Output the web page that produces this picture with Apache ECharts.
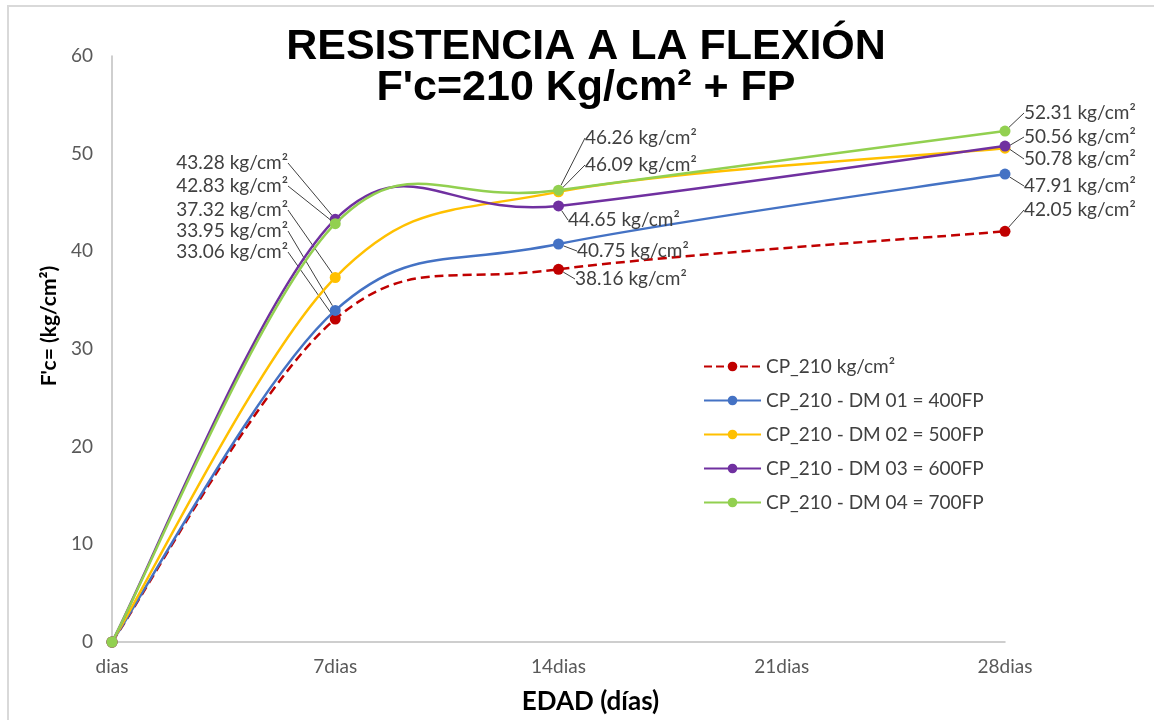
<!DOCTYPE html>
<html>
<head>
<meta charset="utf-8">
<script src="https://cdn.jsdelivr.net/npm/echarts@6/dist/echarts.min.js"></script>
<style>
html,body{margin:0;padding:0;background:#fff;}
#chart{width:1154px;height:720px;}
</style>
</head>
<body>
<div id="chart"></div>
<script>
// ---- data ----
const ages = [0, 7, 14, 28];
const xTicks = [0, 7, 14, 21, 28];
const xTickLabels = ['dias', '7dias', '14dias', '21dias', '28dias'];
const seriesNames = ['CP_210 kg/cm²', 'CP_210 - DM 01 = 400FP', 'CP_210 - DM 02 = 500FP', 'CP_210 - DM 03 = 600FP', 'CP_210 - DM 04 = 700FP'];
const cp210 = [0, 33.06, 38.16, 42.05];
const dm01 = [0, 33.95, 40.75, 47.91];
const dm02 = [0, 37.32, 46.09, 50.56];
const dm03 = [0, 43.28, 44.65, 50.78];
const dm04 = [0, 42.83, 46.26, 52.31];
const unit = ' kg/cm²';

// ---- styles / layout ----
const colors = ['#C00000', '#4472C4', '#FFC000', '#7030A0', '#92D050'];
const lineTypes = ['dashed', 'solid', 'solid', 'solid', 'solid'];
const lineDashes = [[9, 5], null, null, null, null];
// label anchor positions [x, y, align] per series per data index
const labelPos = [
  [null, [288, 252, 'right'], [575, 279, 'left'], [1024, 210, 'left']],
  [null, [288, 231, 'right'], [577, 251, 'left'], [1024, 186, 'left']],
  [null, [288, 210, 'right'], [585, 165, 'left'], [1024, 137, 'left']],
  [null, [288, 163, 'right'], [568, 220, 'left'], [1024, 159, 'left']],
  [null, [288, 186, 'right'], [585, 138, 'left'], [1024, 113, 'left']]
];
const FONT = 'Lato, "Open Sans", sans-serif';
const LW = 2.5;

const allValues = [cp210, dm01, dm02, dm03, dm04];

// Excel-style smoothed curve (Bezier, tension 1/6) drawn from data via the axes
function curveSeries(vals, si) {
  return {
    name: seriesNames[si] + ' (curva)',
    type: 'custom',
    coordinateSystem: 'cartesian2d',
    silent: true,
    z: 2 + si * 2,
    encode: { x: 0, y: 1 },
    data: vals.map((v, i) => [ages[i], v]),
    renderItem: function (params, api) {
      if (params.dataIndex !== 0) return null;
      const pts = vals.map((v, i) => api.coord([ages[i], v]));
      const n = pts.length;
      let d = 'M' + pts[0][0] + ' ' + pts[0][1];
      for (let i = 0; i < n - 1; i++) {
        const p0 = pts[Math.max(i - 1, 0)], p1 = pts[i], p2 = pts[i + 1], p3 = pts[Math.min(i + 2, n - 1)];
        const c1x = p1[0] + (p2[0] - p0[0]) / 6, c1y = p1[1] + (p2[1] - p0[1]) / 6;
        const c2x = p2[0] - (p3[0] - p1[0]) / 6, c2y = p2[1] - (p3[1] - p1[1]) / 6;
        d += ' C' + c1x + ' ' + c1y + ' ' + c2x + ' ' + c2y + ' ' + p2[0] + ' ' + p2[1];
      }
      return {
        type: 'path',
        shape: { pathData: d },
        style: { fill: null, stroke: colors[si], lineWidth: LW, lineDash: lineDashes[si], lineCap: 'butt' }
      };
    }
  };
}

function pointSeries(vals, si) {
  return {
    name: seriesNames[si],
    type: 'line',
    symbol: 'circle',
    symbolSize: 11,
    color: colors[si],
    lineStyle: { width: LW, type: lineTypes[si], color: colors[si], opacity: 0 },
    itemStyle: { color: colors[si] },
    z: 3 + si * 2,
    label: {
      show: true,
      formatter: p => p.value[1].toFixed(2) + unit,
      fontFamily: FONT,
      fontSize: 19,
      color: '#404040'
    },
    labelLine: { show: true, lineStyle: { color: '#404040', width: 1 } },
    labelLayout: function (params) {
      const p = labelPos[si][params.dataIndex];
      if (!p) return {};
      return { x: p[0], y: p[1], align: p[2], verticalAlign: 'middle' };
    },
    data: vals.map((v, i) => i === 0
      ? { value: [ages[i], v], label: { show: false }, labelLine: { show: false } }
      : { value: [ages[i], v] })
  };
}

const series = [];
allValues.forEach((vals, si) => { series.push(curveSeries(vals, si)); series.push(pointSeries(vals, si)); });

const chart = echarts.init(document.getElementById('chart'));
chart.setOption({
  animation: false,
  backgroundColor: '#ffffff',
  graphic: [{
    type: 'rect',
    shape: { x: 8, y: 6, width: 1300, height: 900 },
    style: { fill: 'none', stroke: '#D9D9D9', lineWidth: 2 },
    silent: true
  }],
  title: {
    text: 'RESISTENCIA A LA FLEXIÓN\nF\'c=210 Kg/cm² + FP',
    left: 581,
    top: 22,
    textAlign: 'center',
    textStyle: {
      fontFamily: '"Liberation Sans", Arial, sans-serif',
      fontWeight: 'bold',
      fontSize: 43,
      lineHeight: 41,
      color: '#000000'
    }
  },
  legend: {
    orient: 'vertical',
    left: 698,
    top: 352,
    itemWidth: 57,
    itemHeight: 12,
    itemGap: 15,
    lineStyle: { opacity: 1 },
    textStyle: { fontFamily: FONT, fontSize: 19, color: '#404040' },
    data: seriesNames
  },
  grid: { left: 112, right: 149, top: 56, bottom: 78, containLabel: false },
  xAxis: {
    type: 'value',
    min: 0,
    max: 28,
    interval: 7,
    name: 'EDAD (días)',
    nameLocation: 'middle',
    nameGap: 47,
    nameTextStyle: { fontFamily: FONT, fontWeight: 'bold', fontSize: 26, color: '#000', padding: [0, 0, 0, 64] },
    axisLine: { show: true, lineStyle: { color: '#BFBFBF', width: 1.5 } },
    axisTick: { show: false },
    splitLine: { show: false },
    axisLabel: {
      margin: 15,
      fontFamily: FONT,
      fontSize: 19,
      color: '#595959',
      formatter: v => { const k = xTicks.indexOf(v); return k >= 0 ? xTickLabels[k] : ''; }
    }
  },
  yAxis: {
    type: 'value',
    min: 0,
    max: 60,
    interval: 10,
    name: "F'c= (kg/cm²)",
    nameLocation: 'middle',
    nameGap: 50,
    nameRotate: 90,
    nameTextStyle: { fontFamily: FONT, fontWeight: 'bold', fontSize: 21, color: '#000', padding: [0, 0, 0, 46] },
    axisLine: { show: true, lineStyle: { color: '#BFBFBF', width: 1.5 } },
    axisTick: { show: false },
    splitLine: { show: false },
    axisLabel: { margin: 19, fontFamily: FONT, fontSize: 19, color: '#595959' }
  },
  series: series
});
</script>
</body>
</html>
